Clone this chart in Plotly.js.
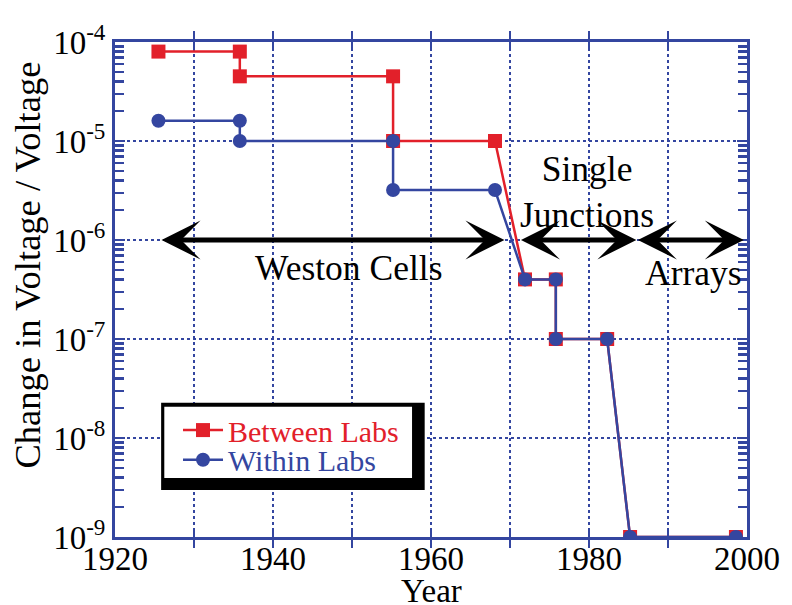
<!DOCTYPE html>
<html><head><meta charset="utf-8">
<script src="https://cdn.plot.ly/plotly-3.0.1.min.js"></script>
<style>body{margin:0;background:#fff}#chart{width:792px;height:605px}</style>
</head><body><div id="chart"></div>
<script>
const betweenYears = [1925.5, 1935.8, 1935.8, 1955.2, 1955.2, 1968.1, 1971.9, 1975.8, 1975.8, 1982.3, 1985.2, 1998.6];
const betweenVals  = [8e-5, 8e-5, 4.5e-5, 4.5e-5, 1e-5, 1e-5, 4e-7, 4e-7, 1e-7, 1e-7, 1e-9, 1e-9];
const withinYears  = [1925.5, 1935.8, 1935.8, 1955.2, 1955.2, 1968.1, 1971.9, 1975.8, 1975.8, 1982.3, 1985.2, 1998.6];
const withinVals   = [1.6e-5, 1.6e-5, 1e-5, 1e-5, 3.2e-6, 3.2e-6, 4e-7, 4e-7, 1e-7, 1e-7, 1e-9, 1e-9];
const xTickVals = [1920, 1930, 1940, 1950, 1960, 1970, 1980, 1990, 2000];
const xTickText = ['1920', '', '1940', '', '1960', '', '1980', '', '2000'];
const yTickVals = [1e-9, 1e-8, 1e-7, 1e-6, 1e-5, 1e-4];
const yTickText = ['10<sup>-9</sup>', '10<sup>-8</sup>', '10<sup>-7</sup>', '10<sup>-6</sup>', '10<sup>-5</sup>', '10<sup>-4</sup>'];
const eras = [
  {label: 'Weston Cells', from: 1925.7, to: 1969.3, ty: -6.28, tx: 1949.6},
  {label: 'Single<br>Junctions', from: 1971.2, to: 1986.0, ty: -5.52, tx: 1979.8},
  {label: 'Arrays', from: 1986.0, to: 1999.6, ty: -6.33, tx: 1993.2}
];

const RED = '#e2202a', BLUE = '#3446a0', AX = '#3446a0';
const serif = 'Liberation Serif';

const traces = [
  {x: betweenYears, y: betweenVals, mode: 'lines+markers', name: 'Between Labs', legend: 'legend',
   line: {color: RED, width: 2.5}, marker: {symbol: 'square', size: 14, color: RED}},
  {x: withinYears, y: withinVals, mode: 'lines+markers', name: 'Within Labs', legend: 'legend2',
   line: {color: BLUE, width: 2.5}, marker: {symbol: 'circle', size: 14, color: BLUE}},
  {x: [1950], y: [1e-6], yaxis: 'y2', mode: 'markers', marker: {opacity: 0}, showlegend: false, hoverinfo: 'skip'},
  {x: [1950], y: [1e-6], yaxis: 'y3', mode: 'markers', marker: {opacity: 0}, showlegend: false, hoverinfo: 'skip'}
];

const annotations = [];
eras.forEach(e => {
  annotations.push({x: e.to, y: -6, ax: e.from, ay: -6, xref: 'x', yref: 'y', axref: 'x', ayref: 'y',
    text: '', showarrow: true, arrowside: 'end+start', arrowhead: 3, startarrowhead: 3,
    arrowsize: 1.3, startarrowsize: 1.3, arrowwidth: 5, arrowcolor: '#000'});
  annotations.push({x: e.tx, y: e.ty, xref: 'x', yref: 'y', text: e.label, showarrow: false,
    font: {family: serif, size: 35.5, color: '#000'}});
});
annotations.push({xref: 'paper', yref: 'paper', x: -0.138, y: 0.55, xanchor: 'center', yanchor: 'middle',
  textangle: -90, showarrow: false, text: 'Change in Voltage / Voltage', font: {family: serif, size: 36.5, color: '#000'}});
annotations.push({xref: 'x', yref: 'paper', x: 1960, y: -0.11, xanchor: 'center', yanchor: 'middle',
  showarrow: false, text: 'Year', font: {family: serif, size: 33, color: '#000'}});

const legBase = {xanchor: 'left', yanchor: 'middle', bgcolor: 'rgba(0,0,0,0)', borderwidth: 0, itemwidth: 40};
const minorAxis = {type: 'log', range: [-9, -4], overlaying: 'y', dtick: 'D1', anchor: 'x',
  showticklabels: false, showgrid: false, showline: true, linecolor: AX, linewidth: 3, zeroline: false,
  ticks: 'inside', ticklen: 9, tickwidth: 2.5, tickcolor: AX};

const layout = {
  width: 792, height: 605,
  margin: {l: 115, r: 45, t: 42, b: 68},
  paper_bgcolor: '#fff', plot_bgcolor: '#fff',
  font: {family: serif},
  showlegend: true,
  legend: Object.assign({x: 0.0997, y: 0.216, font: {family: serif, size: 30, color: RED}}, legBase),
  legend2: Object.assign({x: 0.0997, y: 0.156, font: {family: serif, size: 30, color: BLUE}}, legBase),
  xaxis: {range: [1920, 2000], tickvals: xTickVals, ticktext: xTickText,
    showgrid: true, gridcolor: AX, gridwidth: 2.5, griddash: 'dot',
    showline: true, linecolor: AX, linewidth: 3, mirror: 'allticks',
    ticks: 'inside', ticklen: 8, tickwidth: 2.5, tickcolor: AX, ticklabelstandoff: -10,
    tickfont: {family: serif, size: 33, color: '#000'},
    zeroline: false},
  yaxis: {type: 'log', range: [-9, -4], tickvals: yTickVals, ticktext: yTickText,
    showgrid: true, gridcolor: AX, gridwidth: 2.5, griddash: 'dot',
    showline: true, linecolor: AX, linewidth: 3, mirror: 'allticks',
    ticks: 'inside', ticklen: 10, tickwidth: 2.5, tickcolor: AX,
    tickfont: {family: serif, size: 33, color: '#000'},
    zeroline: false},
  yaxis2: Object.assign({side: 'right'}, minorAxis),
  yaxis3: Object.assign({side: 'left'}, minorAxis),
  shapes: [
    {type: 'rect', xref: 'paper', yref: 'paper', x0: 0.073, x1: 0.49, y0: 0.095, y1: 0.271,
     fillcolor: '#000', line: {width: 0}, layer: 'above'},
    {type: 'rect', xref: 'paper', yref: 'paper', x0: 0.078, x1: 0.47, y0: 0.119, y1: 0.263,
     fillcolor: '#fff', line: {width: 0}, layer: 'above'}
  ],
  annotations: annotations
};

Plotly.newPlot('chart', traces, layout, {displayModeBar: false, staticPlot: true});
</script>
</body></html>
